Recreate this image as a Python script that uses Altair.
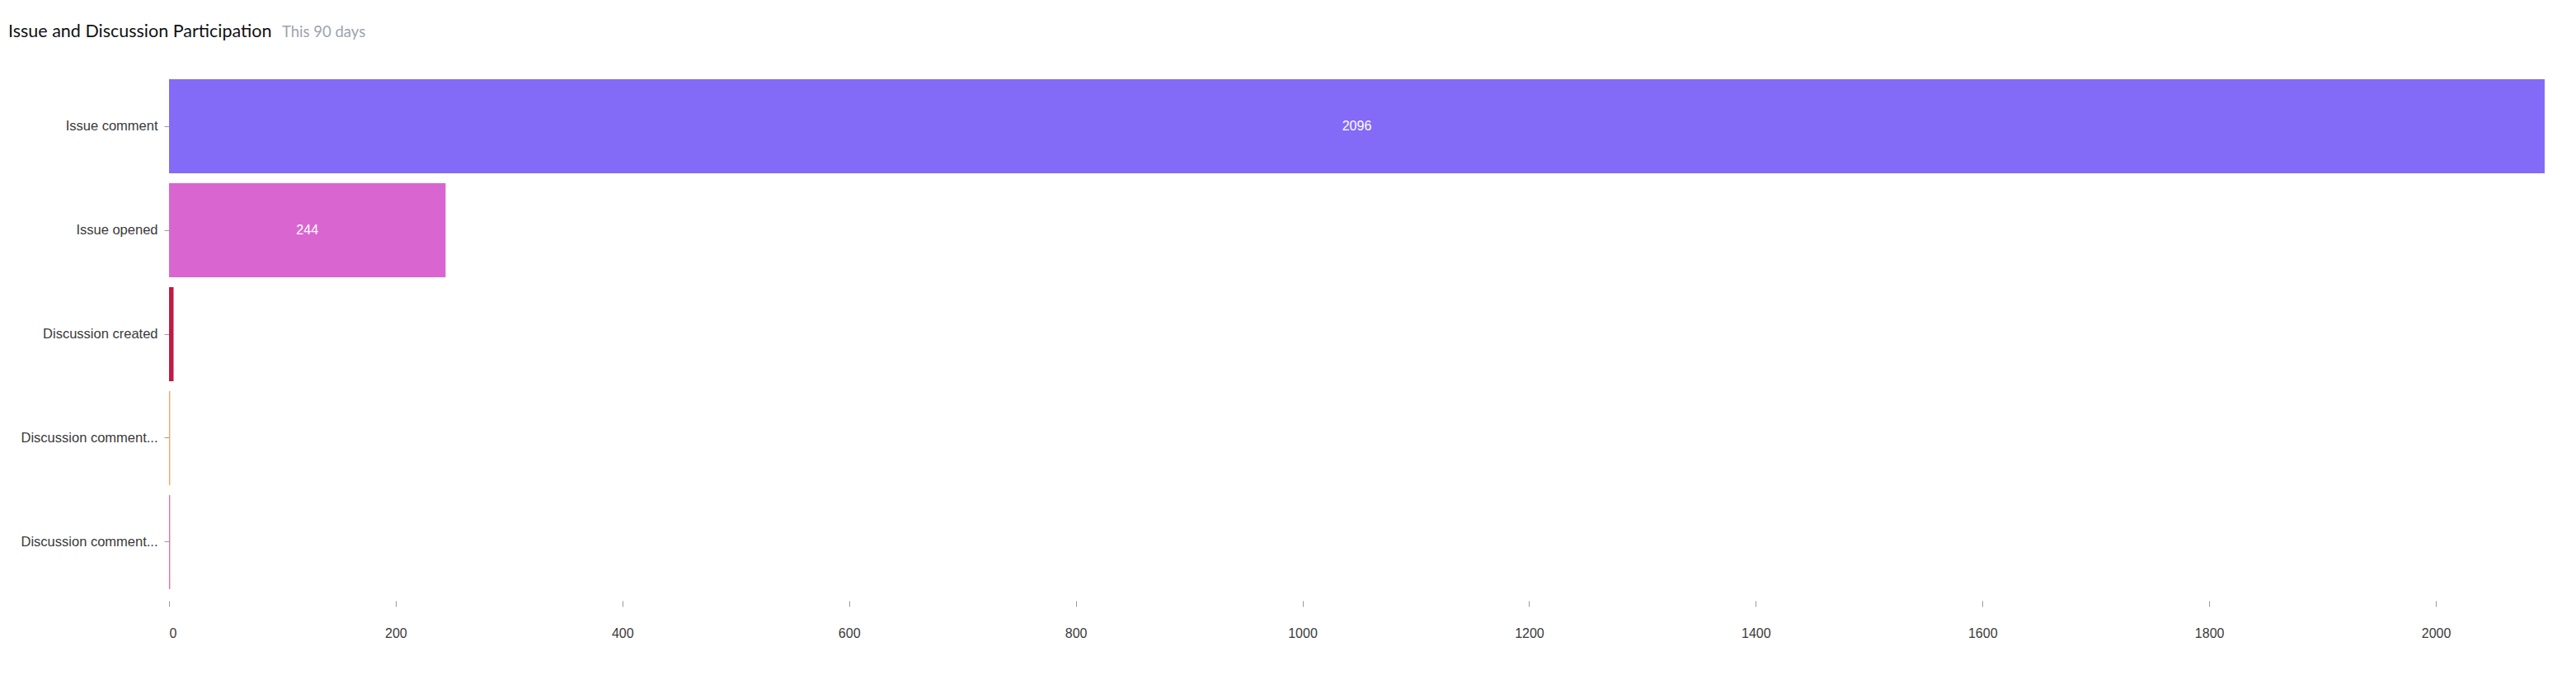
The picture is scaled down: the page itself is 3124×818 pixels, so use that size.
import altair as alt
import pandas as pd

categories = ["Issue comment", "Issue opened", "Discussion created",
              "Discussion comment created", "Discussion comment replied"]
values = [2096, 244, 4, 1, 1]
colors = ["#836bf8", "#d966d0", "#c21a44", "#f5a462", "#f06a9f"]
x_ticks = [0, 200, 400, 600, 800, 1000, 1200, 1400, 1600, 1800, 2000]
title_text = "Issue and Discussion Participation"
subtitle_text = "This 90 days"

df = pd.DataFrame({"category": categories, "value": values})

base = alt.Chart(df)

y_enc = alt.Y(
    "category:N", sort=categories, title=None,
    scale=alt.Scale(paddingInner=0.095, paddingOuter=0.0476),
    axis=alt.Axis(domain=False, ticks=True, tickSize=6, tickColor="#999999",
                  labelFontSize=16.5, labelColor="#3a3a3a", labelFont="Liberation Sans",
                  labelPadding=8, labelBaseline="middle",
                  labelExpr="length(datum.label) > 18 ? substring(datum.label, 0, 18) + '...' : datum.label"),
)
x_enc = alt.X(
    "value:Q", title=None,
    scale=alt.Scale(domain=[0, 2096], nice=False, zero=True),
    axis=alt.Axis(values=x_ticks, format="d", domain=False, grid=False, ticks=True, tickSize=7,
                  tickColor="#999999", offset=8, labelFontSize=16, labelColor="#3a3a3a",
                  labelFont="Liberation Sans", labelPadding=24),
)

bars = base.mark_bar().encode(
    x=x_enc,
    y=y_enc,
    color=alt.Color("category:N", sort=categories, legend=None,
                    scale=alt.Scale(domain=categories, range=colors)),
)

labels = base.transform_filter("datum.value > 10").transform_calculate(
    mid="datum.value / 2"
).mark_text(color="white", fontSize=16, font="Liberation Sans", baseline="middle").encode(
    x="mid:Q",
    y=alt.Y("category:N", sort=categories),
    text="value:Q",
)

t1 = alt.Chart(pd.DataFrame({"t": [title_text]})).mark_text(
    align="left", baseline="alphabetic", fontSize=21.5, font="Lato", color="#111111"
).encode(x=alt.value(-195), y=alt.value(-45), text="t:N")

t2 = alt.Chart(pd.DataFrame({"t": [subtitle_text]})).mark_text(
    align="left", baseline="alphabetic", fontSize=18.5, font="Lato", color="#9ca3af"
).encode(x=alt.value(137), y=alt.value(-45), text="t:N")

chart = alt.layer(bars, labels, t1, t2).properties(
    width=2881, height=630,
    autosize=alt.AutoSizeParams(type="none"),
    padding={"left": 197, "top": 82, "right": 30, "bottom": 90},
).configure_view(stroke=None)

chart.save("out.html", embed_options={"renderer": "svg", "actions": False})
